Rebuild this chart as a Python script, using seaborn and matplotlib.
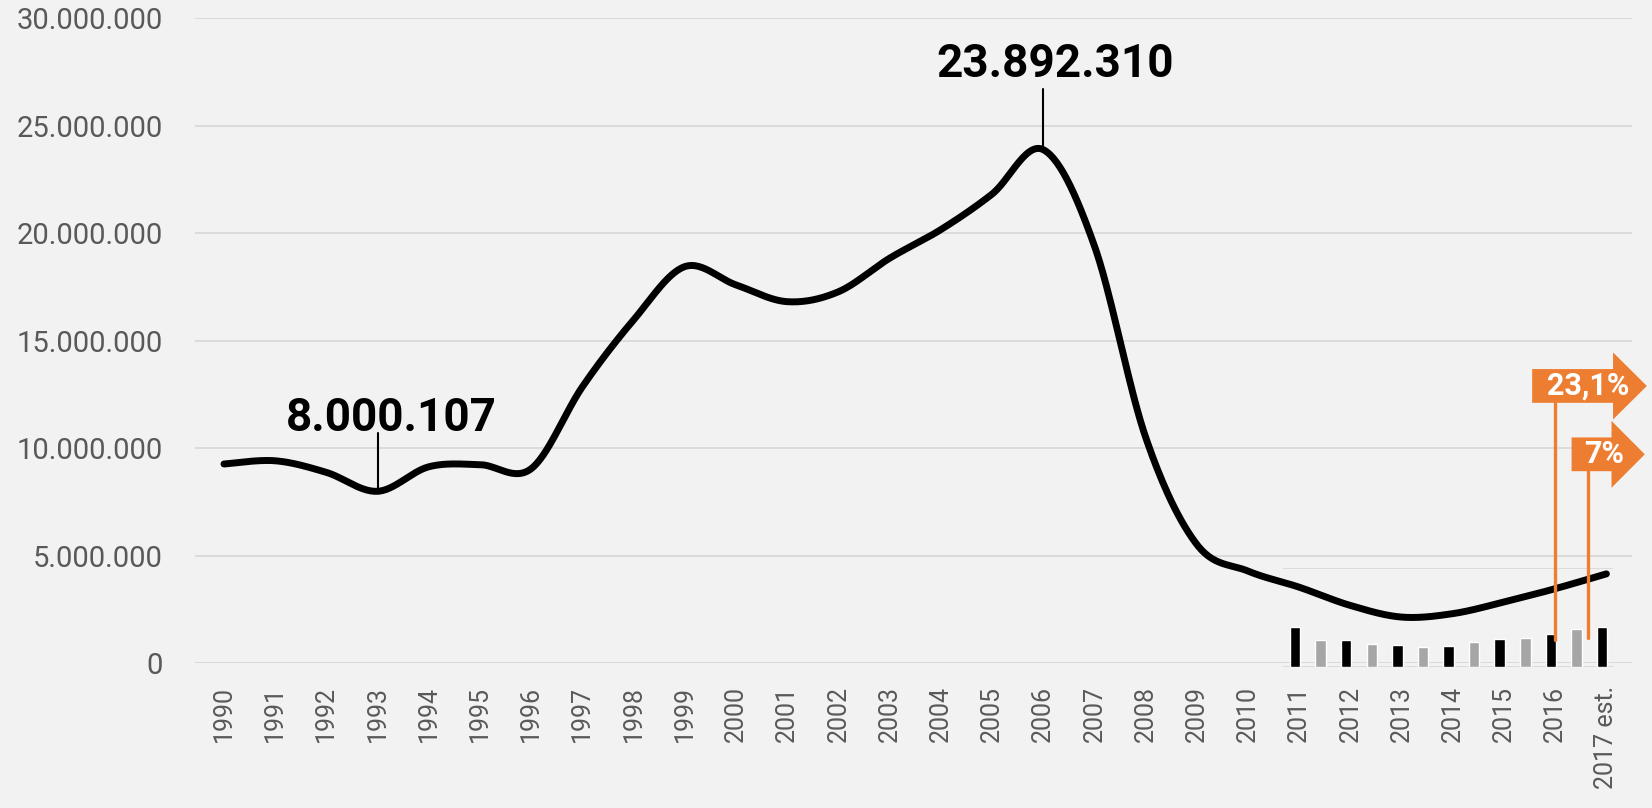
import numpy as np
import pandas as pd
import matplotlib.pyplot as plt
import seaborn as sns
from matplotlib.patches import Polygon

# data (nilai dalam juta)
tahun = ['1990', '1991', '1992', '1993', '1994', '1995', '1996', '1997', '1998', '1999',
         '2000', '2001', '2002', '2003', '2004', '2005', '2006', '2007', '2008', '2009',
         '2010', '2011', '2012', '2013', '2014', '2015', '2016', '2017 est.']
nilai = [9.27, 9.42, 8.88, 8.000107, 9.14, 9.24, 9.05, 12.86, 15.97, 18.45,
         17.60, 16.82, 17.28, 18.84, 20.17, 21.82, 23.89231, 19.42, 10.52, 5.53,
         4.29, 3.54, 2.69, 2.15, 2.31, 2.85, 3.47, 4.16]
y_ticks = [0, 5, 10, 15, 20, 25, 30]
y_labels = ['0', '5.000.000', '10.000.000', '15.000.000', '20.000.000', '25.000.000', '30.000.000']

# batang kecil 2011 - 2017 (tiap setengah tahun)
batang = [40, 27, 27, 23, 22, 20, 21, 25, 28, 29, 33, 38, 40]
warna_batang = ['#000000', '#a6a6a6'] * 6 + ['#000000']

# label puncak/lembah
label_min = '8.000.107'
label_max = '23.892.310'
persen = ['23,1%', '7%']

bg = '#f2f2f2'
oranye = '#ed7d31'
abu_grid = '#d9d9d9'
abu_teks = '#595959'

sns.set_style('white')
plt.rcParams['font.family'] = ['Roboto', 'DejaVu Sans']


def halus(xs, ys, n=30):
    # kurva halus ala Excel (Catmull-Rom)
    p = np.column_stack([xs, ys]).astype(float)
    p = np.vstack([p[0], p, p[-1]])
    out = []
    t = np.linspace(0, 1, n, endpoint=False)[:, None]
    for i in range(1, len(p) - 2):
        p0, p1, p2, p3 = p[i - 1], p[i], p[i + 1], p[i + 2]
        seg = 0.5 * ((2 * p1) + (-p0 + p2) * t + (2 * p0 - 5 * p1 + 4 * p2 - p3) * t ** 2
                     + (-p0 + 3 * p1 - 3 * p2 + p3) * t ** 3)
        out.append(seg)
    out.append(p[-2][None, :])
    out = np.vstack(out)
    return out[:, 0], out[:, 1]


fig = plt.figure(figsize=(16.52, 8.08), dpi=100, facecolor=bg)
ax = fig.add_axes([195 / 1652, (808 - 663.3) / 808, (1632 - 195) / 1652, 645 / 808])
ax.set_facecolor(bg)

x = np.arange(len(tahun))
hx, hy = halus(x, nilai)
df = pd.DataFrame({'x': hx, 'y': hy})
sns.lineplot(data=df, x='x', y='y', ax=ax, color='black', lw=5, sort=False,
             solid_capstyle='round', solid_joinstyle='round', zorder=4)

ax.set_xlim(-0.566, 27.5)
ax.set_ylim(0, 30)
ax.set_yticks(y_ticks)
ax.set_yticklabels(y_labels, fontsize=21, color=abu_teks)
ax.set_xticks(x)
ax.set_xticklabels(tahun, rotation=90, fontsize=18, color=abu_teks, va='top')
ax.tick_params(axis='y', length=0, pad=23)
ax.tick_params(axis='x', length=0, pad=16)
ax.grid(axis='y', color=abu_grid, lw=1.3)
ax.grid(axis='x', visible=False)
ax.set_axisbelow(True)
for s in ax.spines.values():
    s.set_visible(False)
ax.set_xlabel('')
ax.set_ylabel('')

# label 1993 dan 2006
i_min = 3
i_max = 16
ax.plot([i_min, i_min], [nilai[i_min], 10.7], color='black', lw=1.5, zorder=3)
ax.text(i_min + 0.26, 10.8, label_min, ha='center', va='baseline', fontsize=33,
        fontweight='bold', color='black')
ax.plot([i_max, i_max], [nilai[i_max], 26.7], color='black', lw=1.5, zorder=3)
ax.text(i_max + 0.23, 27.27, label_max, ha='center', va='baseline', fontsize=33,
        fontweight='bold', color='black')

# inset batang
ins = ax.inset_axes([20.68, -0.16, 6.45, 4.59], transform=ax.transData)
ins.patch.set_visible(False)
dfb = pd.DataFrame({'k': [str(i) for i in range(len(batang))], 'v': batang})
sns.barplot(data=dfb, x='k', y='v', hue='k', palette=warna_batang, legend=False,
            width=0.41, ax=ins, saturation=1)
ins.set_xlim(-0.48, 12.43)
ins.set_ylim(0, 100)
ins.set_yticks([0, 100])
ins.grid(axis='y', color=abu_grid, lw=1.3)
ins.set_axisbelow(True)
ins.set_xticks([])
ins.set_yticklabels([])
ins.tick_params(length=0)
ins.set_xlabel('')
ins.set_ylabel('')
for s in ins.spines.values():
    s.set_visible(False)


def bendera(x0, x1, xtip, yc, hb, hh, teks, xt):
    pts = [(x0, yc - hb), (x1, yc - hb), (x1, yc - hh), (xtip, yc),
           (x1, yc + hh), (x1, yc + hb), (x0, yc + hb)]
    ax.add_patch(Polygon(pts, closed=True, facecolor=oranye, edgecolor='none',
                         clip_on=False, zorder=7))
    ax.text(xt, yc, teks, ha='center', va='center', fontsize=22, fontweight='bold',
            color='white', zorder=8, clip_on=False)


bendera(25.55, 27.13, 27.79, 12.9, 0.785, 1.56, persen[0], 26.64)
ax.plot([26.0, 26.0], [12.12, 1.08], color=oranye, lw=2.4, zorder=7)
bendera(26.32, 27.10, 27.75, 9.72, 0.785, 1.555, persen[1], 26.95)
ax.plot([26.64, 26.64], [8.94, 1.16], color=oranye, lw=2.4, zorder=7)

fig.savefig('out.png', dpi=100, facecolor=bg)
